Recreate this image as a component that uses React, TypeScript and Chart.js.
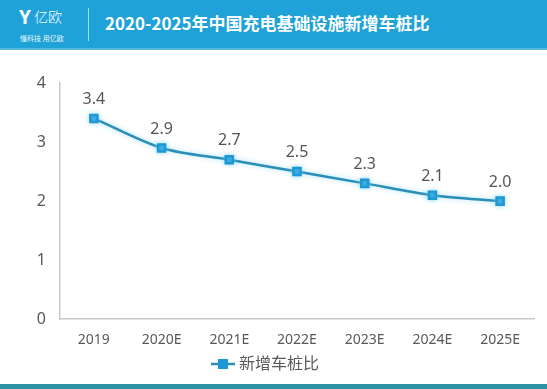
import React, { useEffect, useRef } from "react";
import { Chart, registerables } from "chart.js";

Chart.register(...registerables);

const TITLE = "2020-2025年中国充电基础设施新增车桩比";
const categories = ["2019", "2020E", "2021E", "2022E", "2023E", "2024E", "2025E"];
const seriesName = "新增车桩比";
const ratios = [3.4, 2.9, 2.7, 2.5, 2.3, 2.1, 2.0];
const yTicks = [0, 1, 2, 3, 4];

const LINE = "#2a8fb8";
const MARK = "#1e98d2";
const FONT = "'Noto Sans', 'Noto Sans CJK SC', sans-serif";

function legendIcon(): HTMLCanvasElement {
  const c = document.createElement("canvas");
  c.width = 24;
  c.height = 12;
  const g = c.getContext("2d")!;
  g.strokeStyle = LINE;
  g.lineWidth = 2.5;
  g.beginPath();
  g.moveTo(0, 6);
  g.lineTo(24, 6);
  g.stroke();
  g.fillStyle = MARK;
  g.fillRect(7, 1, 10, 10);
  return c;
}

const labelPlugin = {
  id: "valueLabels",
  afterDatasetsDraw(chart: any) {
    const ctx = chart.ctx;
    const meta = chart.getDatasetMeta(0);
    ctx.save();
    ctx.fillStyle = "#555555";
    ctx.font = `16px ${FONT}`;
    ctx.textAlign = "center";
    ctx.textBaseline = "bottom";
    meta.data.forEach((pt: any, i: number) => {
      ctx.fillText(ratios[i].toFixed(1), pt.x, pt.y - 11);
    });
    ctx.restore();
  },
};

const glowPlugin = {
  id: "glow",
  beforeDatasetDraw(chart: any) {
    const ctx = chart.ctx;
    ctx.save();
    ctx.shadowColor = "rgba(120,210,245,0.7)";
    ctx.shadowBlur = 5;
  },
  afterDatasetDraw(chart: any) {
    chart.ctx.restore();
  },
};

function ChartView() {
  const ref = useRef<HTMLCanvasElement>(null);
  useEffect(() => {
    const chart = new Chart(ref.current!, {
      type: "line",
      data: {
        labels: categories,
        datasets: [
          {
            label: seriesName,
            data: ratios,
            borderColor: LINE,
            borderWidth: 2.5,
            backgroundColor: MARK,
            pointBackgroundColor: MARK,
            pointBorderColor: MARK,
            pointStyle: "rect",
            pointRadius: 5,
            tension: 0.3,
            fill: false,
          },
        ],
      },
      options: {
        responsive: false,
        animation: false,
        layout: { padding: { top: 33, right: 13, left: 0, bottom: 4 } },
        plugins: {
          legend: {
            position: "bottom",
            labels: {
              usePointStyle: true,
              pointStyle: legendIcon() as any,
              color: "#595959",
              font: { size: 16, family: FONT },
              padding: 3,
            },
          },
          tooltip: { enabled: false },
        },
        scales: {
          x: {
            offset: true,
            afterFit: (s: any) => {
              s.height = s.height - 7;
            },
            grid: { display: false, drawTicks: false },
            border: { display: true, color: "#c9c9c9", width: 1.5 },
            ticks: { color: "#595959", font: { size: 14, family: FONT }, padding: 12 },
          },
          y: {
            min: 0,
            max: 4,
            afterFit: (s: any) => {
              s.width = 60;
            },
            afterBuildTicks: (s: any) => {
              s.ticks = yTicks.map((v) => ({ value: v }));
            },
            grid: { display: false, drawTicks: false },
            border: { display: true, color: "#c9c9c9", width: 1.5 },
            ticks: { color: "#595959", font: { size: 16, family: FONT }, padding: 14 },
          },
        },
      },
      plugins: [glowPlugin, labelPlugin],
    });
    return () => chart.destroy();
  }, []);
  return <canvas ref={ref} width={547} height={336} style={{ display: "block" }} />;
}

export default function App() {
  return (
    <div
      style={{
        position: "absolute",
        left: 0,
        top: 0,
        width: 547,
        height: 389,
        background: "#ffffff",
        overflow: "hidden",
        fontFamily: FONT,
      }}
    >
      <div
        style={{
          position: "absolute",
          left: 0,
          top: 0,
          width: 547,
          height: 48,
          background: "#1ea2d8",
          borderBottom: "2px solid #52b8e0",
        }}
      >
        <div style={{ position: "absolute", left: 19, top: 6, color: "#ffffff", fontSize: 19, fontWeight: 700, lineHeight: "22px", fontFamily: "'Noto Sans', sans-serif" }}>Y</div>
        <div style={{ position: "absolute", left: 34, top: 8, color: "#ffffff", fontSize: 14, lineHeight: "18px", fontWeight: 300 }}>亿欧</div>
        <div style={{ position: "absolute", left: 20, top: 34, color: "#eaf7fd", fontSize: 7, lineHeight: "9px" }}>懂科技 用亿欧</div>
        <div style={{ position: "absolute", left: 88, top: 8, width: 1, height: 33, background: "rgba(255,255,255,0.6)" }} />
        <div
          style={{
            position: "absolute",
            left: 105,
            top: 11,
            color: "#ffffff",
            fontSize: 17,
            fontWeight: 700,
            lineHeight: "24px",
            whiteSpace: "nowrap",
            fontFamily: "'Noto Sans CJK SC', 'Noto Sans', sans-serif",
          }}
        >
          {TITLE}
        </div>
      </div>
      <div style={{ position: "absolute", left: 0, top: 50 }}>
        <ChartView />
      </div>
      <div style={{ position: "absolute", left: 0, top: 384, width: 547, height: 5, background: "#2f93a6" }} />
    </div>
  );
}
